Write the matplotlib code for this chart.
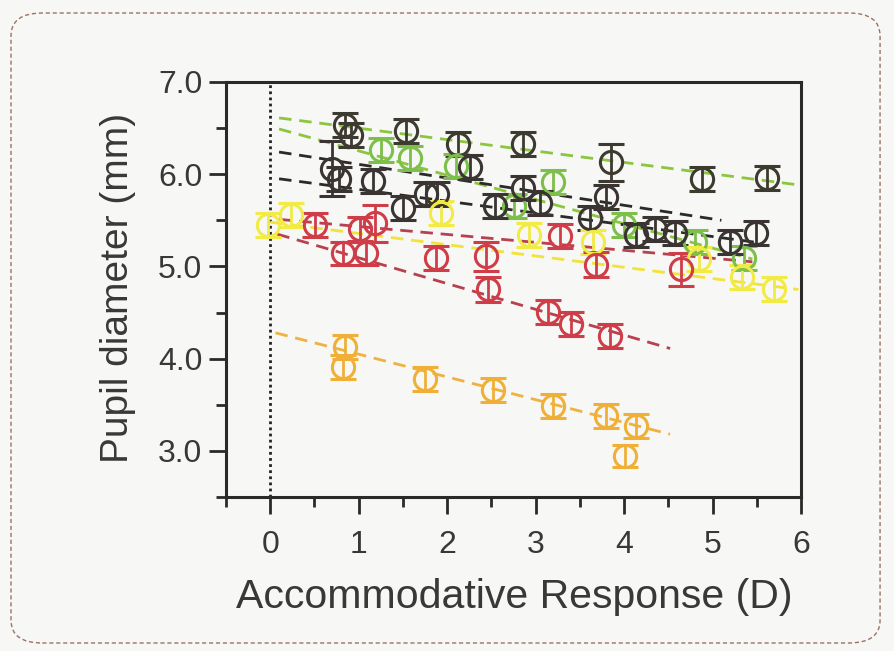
import numpy as np
import matplotlib.pyplot as plt
from matplotlib.patches import FancyBboxPatch

plt.rcParams['font.family'] = ['Liberation Sans', 'DejaVu Sans']

# dark subjects on the top green fit
a_x = [0.85, 0.91, 1.53, 2.12, 2.86, 3.85, 4.88, 5.61]
a_y = [6.53, 6.42, 6.47, 6.33, 6.33, 6.13, 5.95, 5.96]
a_err = [0.13, 0.13, 0.13, 0.13, 0.13, 0.2, 0.13, 0.13]
a_fit_x = [0.1, 6.0]
a_fit_y = [6.61, 5.88]

# light green
b_x = [1.25, 1.58, 2.10, 2.75, 3.20, 4.00, 4.80, 5.35]
b_y = [6.26, 6.18, 6.09, 5.66, 5.91, 5.45, 5.26, 5.09]
b_err = [0.13] * 8
b_fit_x = [0.1, 5.45]
b_fit_y = [6.49, 5.08]

# dark, upper black fit
c_x = [0.70, 1.16, 2.26, 2.86, 3.05, 3.79]
c_y = [6.06, 5.93, 6.08, 5.85, 5.69, 5.75]
c_err = [0.3, 0.13, 0.13, 0.13, 0.13, 0.13]
c_fit_x = [0.1, 5.1]
c_fit_y = [6.24, 5.50]

# dark, lower black fit
d_x = [0.78, 1.50, 1.76, 1.89, 2.54, 3.62, 4.13, 4.35, 4.58, 5.20, 5.49]
d_y = [5.95, 5.63, 5.78, 5.78, 5.65, 5.53, 5.34, 5.41, 5.36, 5.26, 5.36]
d_err = [0.13] * 11
d_fit_x = [0.1, 5.5]
d_fit_y = [5.95, 5.26]

# yellow
e_x = [-0.03, 0.23, 1.93, 2.93, 3.65, 4.85, 5.33, 5.70]
e_y = [5.45, 5.56, 5.58, 5.34, 5.26, 5.08, 4.88, 4.75]
e_err = [0.13] * 8
e_fit_x = [0.0, 5.97]
e_fit_y = [5.48, 4.75]

# red, flat fit
f_x = [0.51, 1.01, 1.18, 3.28, 3.68, 4.64]
f_y = [5.45, 5.41, 5.47, 5.33, 5.02, 4.97]
f_err = [0.13, 0.13, 0.2, 0.13, 0.14, 0.18]
f_fit_x = [0.1, 5.45]
f_fit_y = [5.51, 5.05]

# red, steep fit
g_x = [0.82, 1.08, 1.87, 2.44, 2.46, 3.14, 3.40, 3.84]
g_y = [5.14, 5.14, 5.09, 5.11, 4.75, 4.51, 4.38, 4.25]
g_err = [0.13, 0.13, 0.13, 0.16, 0.14, 0.13, 0.13, 0.13]
g_fit_x = [0.08, 4.52]
g_fit_y = [5.35, 4.11]

# orange
h_x = [0.85, 0.82, 1.75, 2.52, 3.20, 3.80, 4.14, 4.01]
h_y = [4.13, 3.91, 3.78, 3.66, 3.49, 3.38, 3.27, 2.94]
h_err = [0.13, 0.13, 0.13, 0.13, 0.13, 0.13, 0.13, 0.12]
h_fit_x = [0.06, 4.52]
h_fit_y = [4.28, 3.18]

series = [
    (a_x, a_y, a_err, a_fit_x, a_fit_y, '#3d3a30', '#8cc63f'),
    (b_x, b_y, b_err, b_fit_x, b_fit_y, '#7cbf4a', '#8cc63f'),
    (c_x, c_y, c_err, c_fit_x, c_fit_y, '#3a3532', '#2a2a2a'),
    (d_x, d_y, d_err, d_fit_x, d_fit_y, '#3a3532', '#2a2a2a'),
    (e_x, e_y, e_err, e_fit_x, e_fit_y, '#f2ea45', '#f2e23a'),
    (f_x, f_y, f_err, f_fit_x, f_fit_y, '#cf3d48', '#b8414f'),
    (g_x, g_y, g_err, g_fit_x, g_fit_y, '#cf3d48', '#b8414f'),
    (h_x, h_y, h_err, h_fit_x, h_fit_y, '#f0b038', '#efb240'),
]

bg = '#f7f7f5'
fig = plt.figure(figsize=(8.95, 6.51), dpi=100, facecolor=bg)
ax = fig.add_axes([0.2525, 0.2366, 0.6425, 0.6375], facecolor=bg)

# dashed rounded frame around the panel
frame = FancyBboxPatch((0.0123, 0.0123), 0.9710, 0.9677,
                       boxstyle='round,pad=0,rounding_size=0.035',
                       transform=fig.transFigure, fill=False,
                       edgecolor='#9a7363', linestyle=(0, (3, 2)), lw=1.0)
fig.patches.append(frame)

ax.axvline(0, color='#222222', linestyle=(0, (1, 1.2)), lw=2.0, zorder=1)

for x, y, err, fx, fy, mcol, lcol in series:
    ax.plot(fx, fy, linestyle=(0, (4.5, 2.8)), color=lcol, lw=2.0, zorder=2)
    ax.errorbar(x, y, yerr=err, fmt='o', ms=16, mfc='none', mec=mcol,
                mew=2.2, ecolor=mcol, elinewidth=2.0, capsize=9.5,
                capthick=2.2, zorder=3)

ax.set_xlim(-0.5, 6.0)
ax.set_ylim(2.5, 7.0)
ax.set_xticks(np.arange(0, 7, 1))
ax.set_xticks(np.arange(-0.5, 6.01, 0.5), minor=True)
ax.set_yticks([3.0, 4.0, 5.0, 6.0, 7.0])
ax.set_yticks(np.arange(2.5, 7.01, 0.5), minor=True)
ax.set_yticklabels(['3.0', '4.0', '5.0', '6.0', '7.0'])

for s in ax.spines.values():
    s.set_linewidth(2.2)
    s.set_color('#2a2a2a')

ax.tick_params(which='major', direction='out', length=12, width=2,
               labelsize=23, color='#2a2a2a', labelcolor='#383838')
ax.tick_params(axis='x', which='major', pad=12)
ax.tick_params(axis='y', which='major', pad=5)
ax.tick_params(which='minor', direction='out', length=7, width=2,
               color='#2a2a2a')

fig.text(0.132, 0.558, 'Pupil diameter (mm)', rotation=90, ha='center',
         va='center', fontsize=28, color='#383838')
fig.text(0.575, 0.066, 'Accommodative Response (D)', ha='center',
         va='baseline', fontsize=29.5, color='#383838')

fig.savefig('out.png', dpi=100, facecolor=bg)
